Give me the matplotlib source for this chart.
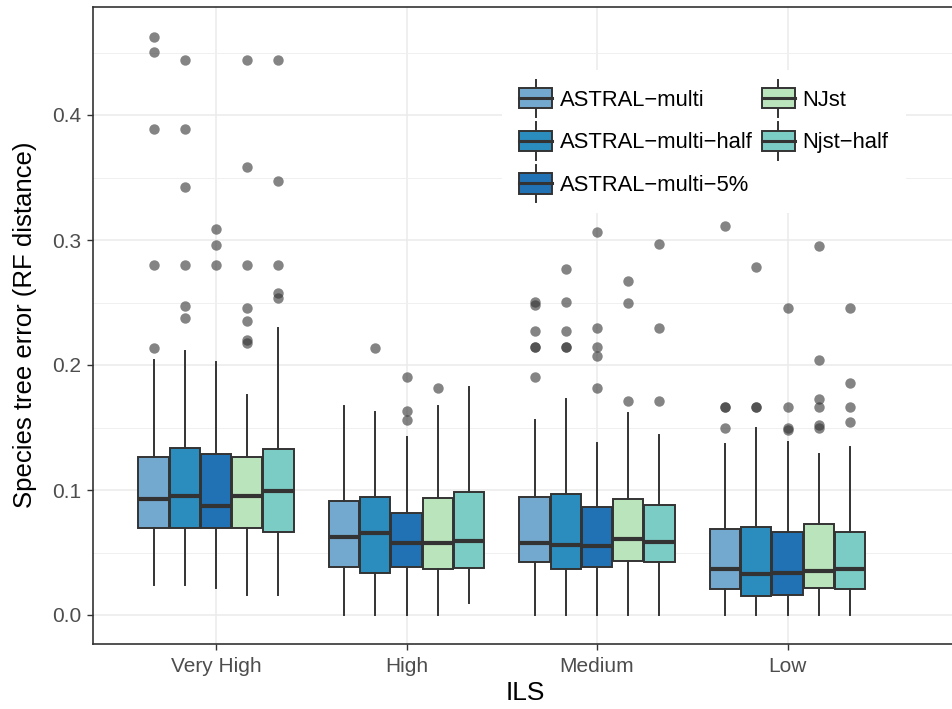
import numpy as np
import matplotlib
matplotlib.use('Agg')
from matplotlib import pyplot as plt
from matplotlib.patches import Rectangle, Patch
from matplotlib.lines import Line2D
from matplotlib.legend_handler import HandlerBase

plt.rcParams['font.family'] = ['Liberation Sans', 'DejaVu Sans']

levels = ['Very High', 'High', 'Medium', 'Low']
methods = ['ASTRAL\u2212multi', 'ASTRAL\u2212multi\u2212half', 'ASTRAL\u2212multi\u22125%',
           'NJst', 'Njst\u2212half']
colors = ['#74a9cf', '#2b8cbe', '#2171b5', '#bae4bc', '#7bccc4']

# box summaries, one row per method, one column per ILS level
whisker_lo = [[0.024, 0.0, 0.0, 0.0],
              [0.024, 0.0, 0.0, 0.0],
              [0.022, 0.0, 0.0, 0.0],
              [0.016, 0.0, 0.0, 0.0],
              [0.016, 0.010, 0.0, 0.0]]
q1 = [[0.0696, 0.0387, 0.0427, 0.0208],
      [0.0696, 0.0339, 0.0368, 0.0155],
      [0.0696, 0.0387, 0.0387, 0.0160],
      [0.0696, 0.0365, 0.0432, 0.0219],
      [0.0667, 0.0373, 0.0421, 0.0208]]
median = [[0.0928, 0.0621, 0.0573, 0.0365],
          [0.0955, 0.0653, 0.0560, 0.0328],
          [0.0870, 0.0573, 0.0555, 0.0333],
          [0.0955, 0.0573, 0.0608, 0.0355],
          [0.0995, 0.0595, 0.0587, 0.0368]]
q3 = [[0.1267, 0.0915, 0.0947, 0.0688],
      [0.1340, 0.0941, 0.0968, 0.0701],
      [0.1285, 0.0819, 0.0867, 0.0661],
      [0.1267, 0.0933, 0.0928, 0.0728],
      [0.1325, 0.0987, 0.0880, 0.0661]]
whisker_hi = [[0.2040, 0.1672, 0.1560, 0.1368],
              [0.2116, 0.1627, 0.1728, 0.1493],
              [0.2027, 0.1427, 0.1373, 0.1381],
              [0.1760, 0.1672, 0.1613, 0.1285],
              [0.2293, 0.1827, 0.1440, 0.1341]]

# outliers per level, one list per method
out_very_high = [[0.4627, 0.4507, 0.3887, 0.280, 0.214],
                 [0.4443, 0.3887, 0.342, 0.280, 0.2473, 0.238],
                 [0.309, 0.2957, 0.280],
                 [0.4443, 0.3586, 0.280, 0.2457, 0.2356, 0.2204, 0.2179],
                 [0.4443, 0.3476, 0.280, 0.2577, 0.254]]
out_high = [[],
            [0.2133],
            [0.1907, 0.1635, 0.156],
            [0.1816],
            []]
out_medium = [[0.2507, 0.248, 0.2272, 0.2147, 0.2147, 0.1907],
              [0.2771, 0.2501, 0.2272, 0.2147, 0.2147],
              [0.3067, 0.2293, 0.2147, 0.2072, 0.1819],
              [0.2672, 0.2499, 0.1712],
              [0.2971, 0.2293, 0.1712]]
out_low = [[0.3115, 0.1667, 0.1667, 0.1499],
           [0.2787, 0.1667, 0.1667],
           [0.2459, 0.1667, 0.1499, 0.148],
           [0.2952, 0.2037, 0.1731, 0.1667, 0.1517, 0.1496],
           [0.2459, 0.1853, 0.1667, 0.1547]]
outliers = [out_very_high, out_high, out_medium, out_low]

edge = '#333333'
box_w = 0.164


class BoxKey(HandlerBase):
    # ggplot-like boxplot legend key, sized from the font size
    def create_artists(self, legend, orig_handle, xdescent, ydescent,
                       width, height, fontsize, trans):
        x0 = -xdescent
        yc = -ydescent + height / 2
        bh = 0.92 * fontsize
        th = 1.7 * fontsize
        xc = x0 + width / 2
        rect = Rectangle((x0, yc - bh / 2), width, bh,
                         facecolor=orig_handle.get_facecolor(),
                         edgecolor=edge, lw=1.4, transform=trans)
        med = Line2D([x0, x0 + width], [yc, yc], color=edge, lw=2.2,
                     transform=trans)
        w1 = Line2D([xc, xc], [yc - th / 2, yc - bh / 2], color=edge, lw=1.4,
                    transform=trans)
        w2 = Line2D([xc, xc], [yc + bh / 2, yc + th / 2], color=edge, lw=1.4,
                    transform=trans)
        return [w1, w2, rect, med]


fig = plt.figure(figsize=(9.52, 7.09), dpi=100)
W, H = 952, 709
left_px, right_px, top_px, bot_px = 92.5, 958, 7, 643.5
ax = fig.add_axes([left_px / W, 1 - bot_px / H, (right_px - left_px) / W,
                   (bot_px - top_px) / H])

for i in range(len(levels)):
    for m in range(len(methods)):
        pos = i + 1 + (m - 2) * box_w
        stats = [{'med': median[m][i], 'q1': q1[m][i], 'q3': q3[m][i],
                  'whislo': whisker_lo[m][i], 'whishi': whisker_hi[m][i],
                  'fliers': outliers[i][m]}]
        ax.bxp(stats, positions=[pos], widths=box_w * 0.97, patch_artist=True,
               showcaps=False, manage_ticks=False,
               boxprops=dict(facecolor=colors[m], edgecolor=edge, lw=1.4),
               medianprops=dict(color=edge, lw=3.0, solid_capstyle='butt'),
               whiskerprops=dict(color=edge, lw=1.4),
               flierprops=dict(marker='o', markerfacecolor=edge,
                               markeredgecolor='none', markersize=7.5, alpha=0.6),
               zorder=3)

ax.set_xlim(1 - (216 - left_px) / 190.5, 1 + (right_px - 216) / 190.5)
ax.set_ylim((615 - bot_px) / 1250, (615 - top_px) / 1250)
ax.set_xticks(range(1, len(levels) + 1))
ax.set_xticklabels(levels)
ax.set_yticks([0.0, 0.1, 0.2, 0.3, 0.4])
ax.set_yticklabels(['0.0', '0.1', '0.2', '0.3', '0.4'])
ax.set_yticks([0.05, 0.15, 0.25, 0.35, 0.45], minor=True)
ax.tick_params(axis='both', which='major', length=4.2, width=1.0, color=edge,
               labelsize=15, labelcolor='#4d4d4d')
ax.tick_params(axis='y', which='major', pad=4)
ax.tick_params(axis='x', which='major', pad=5.5)
ax.tick_params(axis='y', which='minor', length=0)
ax.grid(True, which='major', color='#ebebeb', lw=1.1, zorder=0)
ax.grid(True, which='minor', axis='y', color='#f0f0f0', lw=0.7, zorder=0)
ax.set_axisbelow(True)
for sp in ax.spines.values():
    sp.set_color(edge)
    sp.set_linewidth(1.2)

fig.text(25 / W, 1 - 325 / H, 'Species tree error (RF distance)', rotation=90,
         ha='center', va='center', fontsize=18.5)
fig.text(525 / W, 1 - 693 / H, 'ILS', ha='center', va='center', fontsize=19)

handles = [Patch(facecolor=c) for c in colors]
leg = fig.legend(handles, methods, ncol=2, loc='upper left',
                 bbox_to_anchor=(502 / W, 1 - 70 / H), fontsize=15.8,
                 handler_map={Patch: BoxKey()}, handlelength=1.5,
                 handleheight=1.2, labelspacing=0.86, handletextpad=0.36,
                 columnspacing=0.4, borderpad=0.78, borderaxespad=0,
                 frameon=True, fancybox=False, edgecolor='none',
                 facecolor='white', framealpha=1.0)

fig.savefig('out.png', dpi=100)
